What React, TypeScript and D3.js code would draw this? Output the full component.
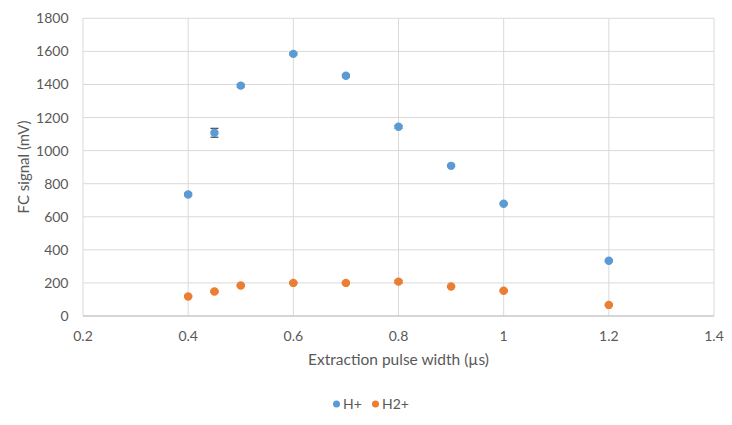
import React from "react";
import * as d3 from "d3";

const xValues = [0.4, 0.45, 0.5, 0.6, 0.7, 0.8, 0.9, 1.0, 1.2];
const hPlus = [735, 1108, 1393, 1585, 1453, 1144, 908, 679, 334];
const hPlusErr = [8, 27, 8, 6, 8, 8, 5, 5, 6];
const h2Plus = [118, 148, 184, 200, 200, 208, 178, 153, 67];
const h2PlusErr = [5, 5, 6, 5, 5, 8, 5, 5, 4];
const xTicks = [0.2, 0.4, 0.6, 0.8, 1.0, 1.2, 1.4];
const yTicks = [0, 200, 400, 600, 800, 1000, 1200, 1400, 1600, 1800];
const seriesNames = ["H+", "H2+"];
const colors = ["#5B9BD5", "#ED7D31"];

const W = 732, H = 425;
const left = 83, right = 714, top = 18.3, bottom = 316;
const font = "Lato, 'Open Sans', sans-serif";

export default function App() {
  const x = d3.scaleLinear().domain([0.2, 1.4]).range([left, right]);
  const y = d3.scaleLinear().domain([0, 1800]).range([bottom, top]);
  const series = [
    { vals: hPlus, errs: hPlusErr, color: colors[0] },
    { vals: h2Plus, errs: h2PlusErr, color: colors[1] },
  ];
  const fmt = (v: number) => (Number.isInteger(v) ? String(v) : String(+v.toFixed(1)));
  return (
    <svg width={W} height={H} style={{ position: "absolute", left: 0, top: 0, background: "#fff" }}>
      <rect x={0} y={0} width={W} height={H} fill="#fff" />
      {yTicks.map((t) => (
        <line key={"gy" + t} x1={left} x2={right} y1={y(t)} y2={y(t)} stroke="#D9D9D9" strokeWidth={1} />
      ))}
      {xTicks.map((t) => (
        <line key={"gx" + t} x1={x(t)} x2={x(t)} y1={top} y2={bottom} stroke="#D9D9D9" strokeWidth={1} />
      ))}
      <line x1={left} x2={right} y1={bottom} y2={bottom} stroke="#BFBFBF" strokeWidth={1} />
      {yTicks.map((t) => (
        <text key={"ty" + t} x={68.5} y={y(t)} dy="0.36em" textAnchor="end" fontSize={14} fill="#595959" fontFamily={font}>
          {t}
        </text>
      ))}
      {xTicks.map((t) => (
        <text key={"tx" + t} x={x(t)} y={341} textAnchor="middle" fontSize={14} fill="#595959" fontFamily={font}>
          {fmt(t)}
        </text>
      ))}
      <text x={398.5} y={364.5} textAnchor="middle" fontSize={15.5} fill="#595959" fontFamily={font}>
        Extraction pulse width (µs)
      </text>
      <text transform={`translate(29,167) rotate(-90)`} textAnchor="middle" fontSize={15} fill="#595959" fontFamily={font}>
        FC signal (mV)
      </text>
      {series.map((s, si) => (
        <g key={"s" + si}>
          {xValues.map((xv, i) => (
            <g key={i}>
              <line x1={x(xv)} x2={x(xv)} y1={y(s.vals[i] - s.errs[i])} y2={y(s.vals[i] + s.errs[i])} stroke="#262626" strokeWidth={1} />
              <line x1={x(xv) - 4} x2={x(xv) + 4} y1={y(s.vals[i] - s.errs[i])} y2={y(s.vals[i] - s.errs[i])} stroke="#262626" strokeWidth={1} />
              <line x1={x(xv) - 4} x2={x(xv) + 4} y1={y(s.vals[i] + s.errs[i])} y2={y(s.vals[i] + s.errs[i])} stroke="#262626" strokeWidth={1} />
              <circle cx={x(xv)} cy={y(s.vals[i])} r={4.2} fill={s.color} />
            </g>
          ))}
        </g>
      ))}
      <g>
        <circle cx={336.5} cy={404} r={3.5} fill={colors[0]} />
        <text x={343} y={404} dy="0.36em" fontSize={14} fill="#595959" fontFamily={font}>{seriesNames[0]}</text>
        <circle cx={375.5} cy={404} r={3.5} fill={colors[1]} />
        <text x={382} y={404} dy="0.36em" fontSize={14} fill="#595959" fontFamily={font}>{seriesNames[1]}</text>
      </g>
    </svg>
  );
}
